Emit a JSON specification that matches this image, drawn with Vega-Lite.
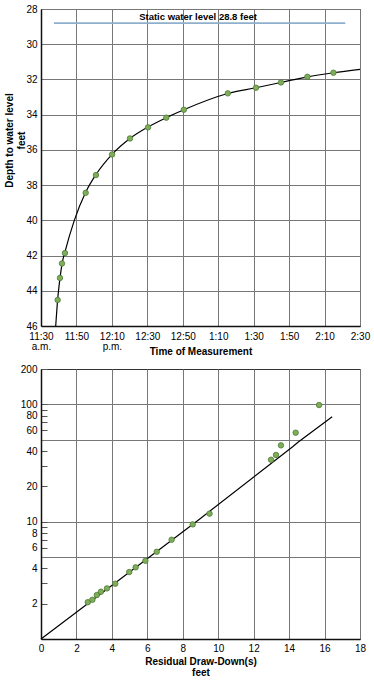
{
  "$schema": "https://vega.github.io/schema/vega-lite/v6.json",
  "padding": {"left": 3, "top": 3, "right": 2, "bottom": 2},
  "spacing": 6,
  "config": {
    "font": "Liberation Sans",
    "view": {"stroke": "#333", "strokeWidth": 1},
    "axis": {
      "labelFont": "Liberation Sans", "labelFontSize": 10, "labelColor": "#000",
      "labelOverlap": false, "labelSeparation": 0,
      "titleFont": "Liberation Sans", "titleFontSize": 10, "titleFontWeight": "bold", "titleColor": "#000",
      "domainColor": "#111", "domainWidth": 1.5,
      "gridColor": "#777", "gridWidth": 1, "gridOpacity": 1,
      "ticks": false, "labelPadding": 4
    }
  },
  "vconcat": [
    {
      "width": 319,
      "height": 317,
      "layer": [
        {
          "data": {"values": [
            {"minutes": 8.3, "depth": 46}, {"minutes": 9.4, "depth": 44.5}, {"minutes": 10.7, "depth": 43.3},
            {"minutes": 12, "depth": 42.4}, {"minutes": 13.5, "depth": 41.8}, {"minutes": 18.8, "depth": 40},
            {"minutes": 25.2, "depth": 38.4}, {"minutes": 31, "depth": 37.4}, {"minutes": 40.1, "depth": 36.25},
            {"minutes": 50.2, "depth": 35.35}, {"minutes": 60.4, "depth": 34.7}, {"minutes": 70.7, "depth": 34.17},
            {"minutes": 80.6, "depth": 33.72}, {"minutes": 105.4, "depth": 32.8}, {"minutes": 121.3, "depth": 32.47},
            {"minutes": 135.4, "depth": 32.17}, {"minutes": 150.3, "depth": 31.85}, {"minutes": 165, "depth": 31.62},
            {"minutes": 180, "depth": 31.43}
          ]},
          "mark": {"type": "line", "color": "#000", "strokeWidth": 1.2, "interpolate": "monotone"},
          "encoding": {
            "x": {
              "field": "minutes", "type": "quantitative",
              "scale": {"domain": [0, 180], "nice": false, "zero": false},
              "axis": {
                "values": [0, 20, 40, 60, 80, 100, 120, 140, 160, 180],
                "tickCount": 50,
                "labelExpr": "datum.value == 0 ? ['11:30', 'a.m.'] : datum.value == 40 ? ['12:10', 'p.m.'] : ['11:30','11:50','12:10','12:30','12:50','1:10','1:30','1:50','2:10','2:30'][round(datum.value / 20)]",
                "labelLineHeight": 10, "labelPadding": 5, "labelFlush": false,
                "grid": true,
                "title": "Time of Measurement",
                "titleY": 28.5, "titleBaseline": "alphabetic"
              }
            },
            "y": {
              "field": "depth", "type": "quantitative",
              "scale": {"domain": [28, 46], "reverse": true, "nice": false, "zero": false},
              "axis": {
                "values": [28, 30, 32, 34, 36, 38, 40, 42, 44, 46],
                "tickCount": 50, "format": "d",
                "grid": true,
                "title": ["Depth to water level", "feet"],
                "titleAngle": 270, "titleX": -29, "titleY": 131,
                "titleBaseline": "alphabetic", "titleAlign": "center", "titleLineHeight": 12
              }
            }
          }
        },
        {
          "data": {"values": [
            {"minutes": 9.4, "depth": 44.52}, {"minutes": 10.7, "depth": 43.27}, {"minutes": 11.85, "depth": 42.45},
            {"minutes": 13.5, "depth": 41.86}, {"minutes": 25.2, "depth": 38.44}, {"minutes": 31.0, "depth": 37.43},
            {"minutes": 40.1, "depth": 36.26}, {"minutes": 50.2, "depth": 35.35}, {"minutes": 60.4, "depth": 34.72},
            {"minutes": 70.7, "depth": 34.17}, {"minutes": 80.6, "depth": 33.72}, {"minutes": 105.4, "depth": 32.79},
            {"minutes": 121.3, "depth": 32.47}, {"minutes": 135.4, "depth": 32.17}, {"minutes": 150.3, "depth": 31.85},
            {"minutes": 165.0, "depth": 31.62}
          ]},
          "mark": {"type": "circle", "fill": "#7fae5a", "stroke": "#4f7a35", "strokeWidth": 0.8, "size": 30, "opacity": 1},
          "encoding": {
            "x": {"field": "minutes", "type": "quantitative"},
            "y": {"field": "depth", "type": "quantitative"}
          }
        },
        {
          "data": {"values": [{"start": 7.3, "end": 171.7, "depth": 28.8}]},
          "mark": {"type": "rule", "color": "#8fb0cc", "strokeWidth": 1.8},
          "encoding": {
            "x": {"field": "start", "type": "quantitative"},
            "x2": {"field": "end"},
            "y": {"field": "depth", "type": "quantitative"}
          }
        },
        {
          "data": {"values": [{"label": "Static water level 28.8 feet", "minutes": 88.6, "depth": 28.64}]},
          "mark": {"type": "text", "fontWeight": "bold", "fontSize": 9.5, "baseline": "alphabetic", "align": "center", "color": "#000", "font": "Liberation Sans"},
          "encoding": {
            "x": {"field": "minutes", "type": "quantitative"},
            "y": {"field": "depth", "type": "quantitative"},
            "text": {"field": "label"}
          }
        }
      ]
    },
    {
      "width": 319,
      "height": 270,
      "layer": [
        {
          "data": {"values": [
            {"drawdown": 0, "ratio": 1}, {"drawdown": 8.94, "ratio": 10.5}, {"drawdown": 14.2, "ratio": 43.5},
            {"drawdown": 14.5, "ratio": 47.5}, {"drawdown": 16.43, "ratio": 78.4}
          ]},
          "mark": {"type": "line", "color": "#000", "strokeWidth": 1.2},
          "encoding": {
            "x": {
              "field": "drawdown", "type": "quantitative",
              "scale": {"domain": [0, 18], "nice": false},
              "axis": {
                "values": [0, 2, 4, 6, 8, 10, 12, 14, 16, 18],
                "tickCount": 50, "format": "d",
                "grid": true, "labelFlush": false,
                "title": ["Residual Draw-Down(s)", "feet"],
                "titleY": 25.3, "titleBaseline": "alphabetic", "titleLineHeight": 11.5
              }
            },
            "y": {
              "field": "ratio", "type": "quantitative",
              "scale": {"type": "log", "domain": [1, 200], "nice": false},
              "axis": {
                "values": [2, 3, 4, 6, 7, 8, 9, 10, 20, 30, 40, 60, 70, 80, 90, 100, 200],
                "tickCount": 50,
                "labelExpr": "indexof([2, 4, 6, 8, 10, 20, 40, 60, 80, 100, 200], datum.value) >= 0 ? format(datum.value, 'd') : ''",
                "ticks": true, "tickSize": -6, "tickColor": "#555", "labelPadding": 10,
                "grid": false, "title": null
              }
            }
          }
        },
        {
          "data": {"values": [
            {"drawdown": 2.64, "ratio": 2.06}, {"drawdown": 2.90, "ratio": 2.16}, {"drawdown": 3.15, "ratio": 2.37},
            {"drawdown": 3.38, "ratio": 2.53}, {"drawdown": 3.72, "ratio": 2.70}, {"drawdown": 4.19, "ratio": 2.96},
            {"drawdown": 4.98, "ratio": 3.72}, {"drawdown": 5.34, "ratio": 4.08}, {"drawdown": 5.89, "ratio": 4.64},
            {"drawdown": 6.53, "ratio": 5.54}, {"drawdown": 7.37, "ratio": 7.01}, {"drawdown": 8.56, "ratio": 9.48},
            {"drawdown": 9.51, "ratio": 11.7}, {"drawdown": 12.98, "ratio": 33.7}, {"drawdown": 13.26, "ratio": 37.0},
            {"drawdown": 13.54, "ratio": 44.7}, {"drawdown": 14.37, "ratio": 57.3}, {"drawdown": 15.69, "ratio": 98.6}
          ]},
          "mark": {"type": "circle", "fill": "#7fae5a", "stroke": "#4f7a35", "strokeWidth": 0.8, "size": 30, "opacity": 1},
          "encoding": {
            "x": {"field": "drawdown", "type": "quantitative"},
            "y": {
              "field": "ratio", "type": "quantitative",
              "axis": {
                "orient": "left", "values": [5, 10, 50, 100], "tickCount": 50, "grid": true,
                "labels": false, "ticks": false, "domain": false, "title": null
              }
            }
          }
        }
      ],
      "resolve": {"axis": {"y": "independent"}}
    }
  ]
}
